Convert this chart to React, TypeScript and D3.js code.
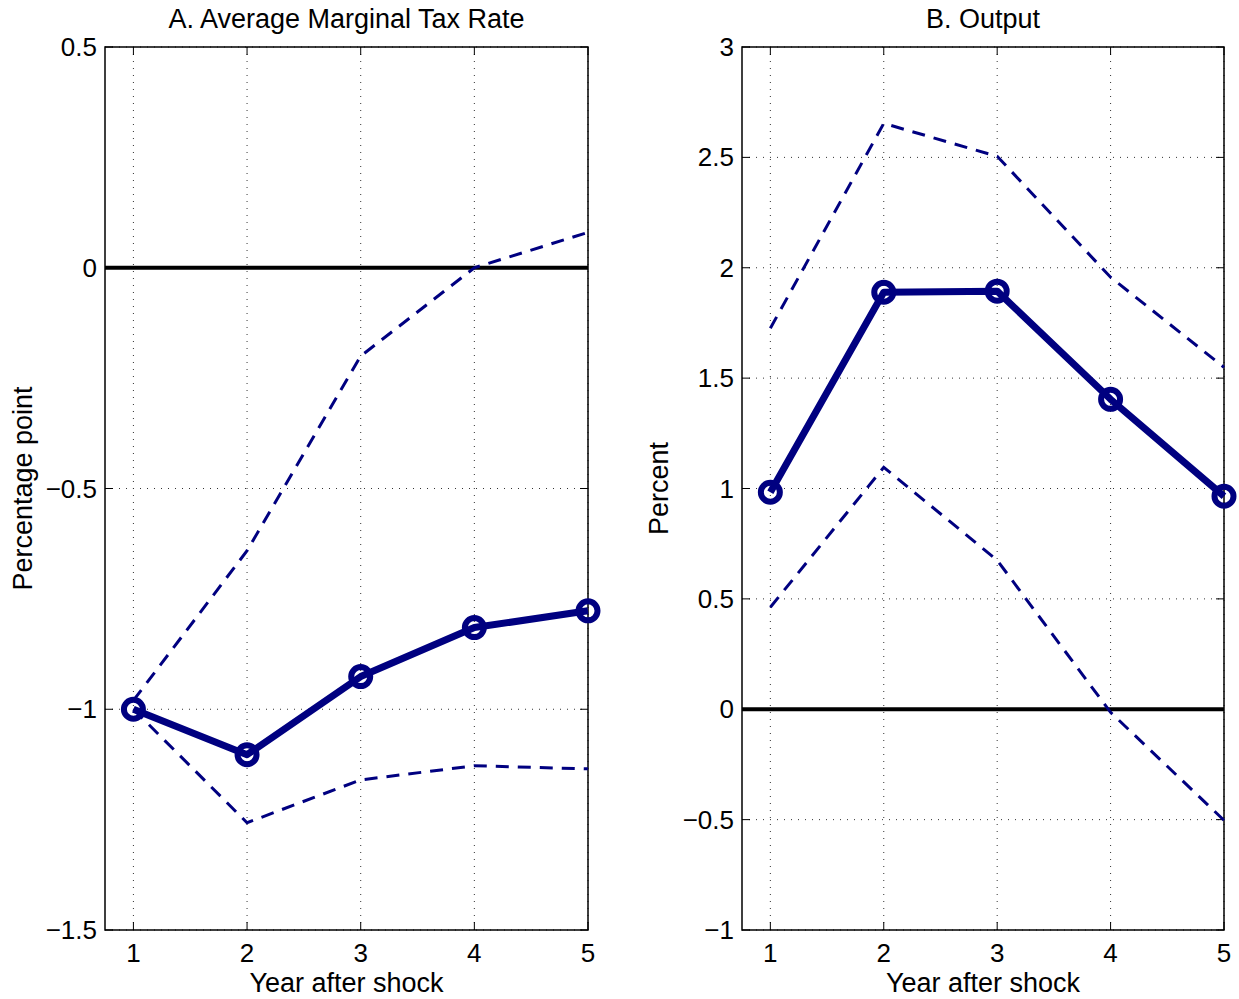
import React, { useEffect, useRef } from 'react';
import * as d3 from 'd3';

const years = [1, 2, 3, 4, 5];

// Panel A: average marginal tax rate (percentage point)
const taxPoint = [-1.0, -1.103, -0.926, -0.815, -0.777];
const taxUpper = [-0.98, -0.641, -0.2, 0.0, 0.08];
const taxLower = [-1.0, -1.257, -1.16, -1.128, -1.135];
const taxTicks = [0.5, 0, -0.5, -1, -1.5];

// Panel B: output (percent)
const outPoint = [0.983, 1.889, 1.894, 1.404, 0.965];
const outUpper = [1.726, 2.654, 2.505, 1.957, 1.549];
const outLower = [0.462, 1.096, 0.675, -0.014, -0.503];
const outTicks = [3, 2.5, 2, 1.5, 1, 0.5, 0, -0.5, -1];

const W = 1239;
const H = 999;
const NAVY = '#000080';
const FONT = '"Liberation Sans", Arial, sans-serif';

const fmt = (v: number) => String(v).replace('-', '\u2212');

const panels = [
  {
    title: 'A. Average Marginal Tax Rate',
    ylabel: 'Percentage point',
    left: 105, right: 588, ylabelX: 32,
    domain: [-1.5, 0.5], ticks: taxTicks,
    point: taxPoint, upper: taxUpper, lower: taxLower,
  },
  {
    title: 'B. Output',
    ylabel: 'Percent',
    left: 742, right: 1224, ylabelX: 668,
    domain: [-1, 3], ticks: outTicks,
    point: outPoint, upper: outUpper, lower: outLower,
  },
];

const App = () => {
  const svgRef = useRef<SVGSVGElement>(null);

  useEffect(() => {
    document.body.style.margin = '0';
    const svg = d3.select(svgRef.current);
    svg.selectAll('*').remove();

    const top = 47;
    const bottom = 930;

    panels.forEach((p) => {
      const x = d3.scaleLinear().domain([0.75, 5]).range([p.left, p.right]);
      const y = d3.scaleLinear().domain(p.domain).range([bottom, top]);
      const g = svg.append('g');

      // grid
      g.selectAll('.vgrid')
        .data(years)
        .enter().append('line')
        .attr('x1', d => x(d)).attr('x2', d => x(d))
        .attr('y1', top).attr('y2', bottom)
        .attr('stroke', '#333').attr('stroke-width', 1)
        .attr('stroke-dasharray', '1,6');
      g.selectAll('.hgrid')
        .data(p.ticks)
        .enter().append('line')
        .attr('x1', p.left).attr('x2', p.right)
        .attr('y1', d => y(d)).attr('y2', d => y(d))
        .attr('stroke', '#333').attr('stroke-width', 1)
        .attr('stroke-dasharray', '1,6');

      // ticks (inside, all sides)
      const tl = 8;
      years.forEach((d) => {
        g.append('line').attr('x1', x(d)).attr('x2', x(d))
          .attr('y1', bottom).attr('y2', bottom - tl).attr('stroke', '#000');
        g.append('line').attr('x1', x(d)).attr('x2', x(d))
          .attr('y1', top).attr('y2', top + tl).attr('stroke', '#000');
      });
      p.ticks.forEach((d) => {
        g.append('line').attr('x1', p.left).attr('x2', p.left + tl)
          .attr('y1', y(d)).attr('y2', y(d)).attr('stroke', '#000');
        g.append('line').attr('x1', p.right).attr('x2', p.right - tl)
          .attr('y1', y(d)).attr('y2', y(d)).attr('stroke', '#000');
      });

      // zero line
      g.append('line')
        .attr('x1', p.left).attr('x2', p.right)
        .attr('y1', y(0)).attr('y2', y(0))
        .attr('stroke', '#000').attr('stroke-width', 4);

      // box
      g.append('rect')
        .attr('x', p.left).attr('y', top)
        .attr('width', p.right - p.left).attr('height', bottom - top)
        .attr('fill', 'none').attr('stroke', '#000').attr('stroke-width', 1.5);

      const line = d3.line<number>()
        .x((_, i) => x(years[i]))
        .y(d => y(d));

      [p.upper, p.lower].forEach((band) => {
        g.append('path')
          .datum(band)
          .attr('fill', 'none')
          .attr('stroke', NAVY)
          .attr('stroke-width', 3)
          .attr('stroke-dasharray', '13,9')
          .attr('d', line);
      });

      g.append('path')
        .datum(p.point)
        .attr('fill', 'none')
        .attr('stroke', NAVY)
        .attr('stroke-width', 7)
        .attr('stroke-linejoin', 'round')
        .attr('d', line);

      g.selectAll('.dot')
        .data(p.point)
        .enter().append('circle')
        .attr('cx', (_, i) => x(years[i]))
        .attr('cy', d => y(d))
        .attr('r', 9.5)
        .attr('fill', 'none')
        .attr('stroke', NAVY)
        .attr('stroke-width', 6);

      // tick labels
      g.selectAll('.xlab')
        .data(years)
        .enter().append('text')
        .attr('x', d => x(d)).attr('y', 962)
        .attr('text-anchor', 'middle')
        .style('font-family', FONT).style('font-size', '26px')
        .text(d => d);
      g.selectAll('.ylab')
        .data(p.ticks)
        .enter().append('text')
        .attr('x', p.left - 8).attr('y', d => y(d) + 9)
        .attr('text-anchor', 'end')
        .style('font-family', FONT).style('font-size', '26px')
        .text(d => fmt(d));

      // titles
      g.append('text')
        .attr('x', (p.left + p.right) / 2).attr('y', 28)
        .attr('text-anchor', 'middle')
        .style('font-family', FONT).style('font-size', '27px')
        .text(p.title);
      g.append('text')
        .attr('x', (p.left + p.right) / 2).attr('y', 992)
        .attr('text-anchor', 'middle')
        .style('font-family', FONT).style('font-size', '27px')
        .text('Year after shock');
      g.append('text')
        .attr('transform', `translate(${p.ylabelX},${(top + bottom) / 2}) rotate(-90)`)
        .attr('text-anchor', 'middle')
        .style('font-family', FONT).style('font-size', '27px')
        .text(p.ylabel);
    });
  }, []);

  return <svg ref={svgRef} width={W} height={H} style={{ display: 'block' }}></svg>;
};

export default App;
